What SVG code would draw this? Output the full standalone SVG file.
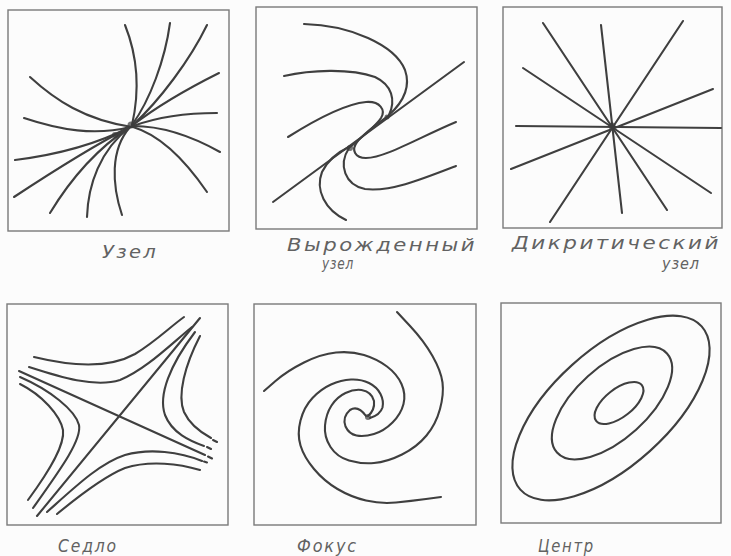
<svg xmlns="http://www.w3.org/2000/svg" width="731" height="556" viewBox="0 0 731 556">
<style>
.bg{fill:#fcfcfc}
.box{fill:none;stroke:#7a7a7a;stroke-width:1.4}
.c{fill:none;stroke:#3f3f3f;stroke-width:2.1;stroke-linecap:round;stroke-linejoin:round}
.lbl{font-family:"DejaVu Sans","Liberation Sans",sans-serif;font-style:italic;font-size:17px;letter-spacing:2px;fill:#626262}
.sm{font-size:15px;letter-spacing:1px}
.dot{fill:#3a3a3a;opacity:0.7}
</style>
<rect class="bg" x="0" y="0" width="731" height="556"/>

<g id="panel-uzel">
<rect class="box" x="8" y="10" width="221" height="221"/>
<path class="c" d="M125,25 C137,55 140,90 132,125"/>
<path class="c" d="M170,23 C165,60 150,100 132,125"/>
<path class="c" d="M207,25 C190,60 160,100 133,125"/>
<path class="c" d="M219,73 C185,90 155,108 133,125"/>
<path class="c" d="M217,113 C185,113 155,118 133,126"/>
<path class="c" d="M220,152 C195,138 165,126 133,126"/>
<path class="c" d="M207,192 C185,160 160,135 133,127"/>
<path class="c" d="M30,77 C55,100 85,120 132,127"/>
<path class="c" d="M24,118 C60,130 95,136 130,127"/>
<path class="c" d="M15,160 C55,155 95,145 130,127"/>
<path class="c" d="M14,197 C55,170 95,145 130,127"/>
<path class="c" d="M50,213 C70,180 95,150 130,127"/>
<path class="c" d="M87,217 C88,185 100,150 130,127"/>
<path class="c" d="M122,215 C112,185 110,150 130,127"/>
<circle class="dot" cx="131" cy="125" r="3.5"/>
<circle class="dot" cx="115" cy="135" r="3"/>
<text class="lbl" x="102" y="258" textLength="56" lengthAdjust="spacingAndGlyphs">Узел</text>
</g>

<g id="panel-vyrozhdenny">
<rect class="box" x="256" y="7" width="221" height="222"/>
<path class="c" d="M273,202 L464,62"/>
<path class="c" d="M304,24 C350,25 395,45 405,70 C412,90 400,105 389,115"/>
<path class="c" d="M284,76 C310,70 350,68 375,77 C392,85 396,100 389,115"/>
<path class="c" d="M288,137 C315,120 345,104 366,102 C380,101 386,110 381,118 C375,127 362,137 350,147"/>
<path class="c" d="M456,122 C420,137 385,158 366,158 C355,158 351,150 357,142 C364,133 377,124 388,116"/>
<path class="c" d="M456,166 C420,180 390,192 365,189 C345,185 338,165 349,148"/>
<path class="c" d="M346,220 C325,210 315,190 322,172 C328,160 338,152 349,147"/>
<circle class="dot" cx="350" cy="148" r="3"/>
<circle class="dot" cx="387" cy="117" r="2.5"/>
<text class="lbl" x="287" y="251" textLength="190" lengthAdjust="spacingAndGlyphs">Вырожденный</text>
<text class="lbl sm" x="322" y="269" textLength="32" lengthAdjust="spacingAndGlyphs">узел</text>
</g>

<g id="panel-dikritichesky">
<rect class="box" x="503" y="7" width="219" height="221"/>
<path class="c" d="M543,23 L667,210"/>
<path class="c" d="M601,25 L622,213"/>
<path class="c" d="M683,21 L550,222"/>
<path class="c" d="M523,68 L711,193"/>
<path class="c" d="M713,89 L511,169"/>
<path class="c" d="M516,126 L721,128"/>
<circle class="dot" cx="612" cy="126" r="3.5"/>
<text class="lbl" x="512" y="249" textLength="209" lengthAdjust="spacingAndGlyphs">Дикритический</text>
<text class="lbl sm" x="662" y="269" textLength="38" lengthAdjust="spacingAndGlyphs">узел</text>
</g>

<g id="panel-sedlo">
<rect class="box" x="7" y="304" width="221" height="221"/>
<path class="c" d="M19,371 L205,455"/>
<path class="c" d="M208,456.5 L212,458.5"/>
<path class="c" d="M200,318 L37,516"/>
<path class="c" d="M34,357 C75,367 110,368 135,354 C155,342 170,327 184,317"/>
<path class="c" d="M29,367 C60,377 95,388 120,380 C145,370 170,345 192,327"/>
<path class="c" d="M195,332 C170,365 158,395 165,415 C172,433 190,441 204,446"/>
<path class="c" d="M207,447 L211,449"/>
<path class="c" d="M200,336 C185,365 177,395 184,412 C190,425 200,432 211,438"/>
<path class="c" d="M213,440 L217,442"/>
<path class="c" d="M202,461 C180,452 150,448 125,455 C100,463 75,487 47,512"/>
<path class="c" d="M204,461.5 L207,462.5"/>
<path class="c" d="M200,470 C180,464 150,460 125,468 C105,476 80,495 57,514"/>
<path class="c" d="M20,377 C50,390 75,410 79,425 C82,440 60,470 33,508"/>
<path class="c" d="M20,384 C42,395 60,415 63,430 C65,445 50,470 28,500"/>
<text class="lbl" x="58" y="552" textLength="60" lengthAdjust="spacingAndGlyphs">Седло</text>
</g>

<g id="panel-fokus">
<rect class="box" x="254" y="304" width="222" height="221"/>
<path class="c" d="M397,312 L410.5,326.5 Q424,341 432.5,356 Q441,371 442.5,382.5 Q444,394 440,409 Q436,424 426.5,435.5 Q417,447 402,454.5 Q387,462 374,463 Q361,464 349,460.5 Q337,457 330.5,447 Q324,437 325,425.5 Q326,414 331.5,405.5 Q337,397 345.5,393 Q354,389 361.5,390 Q372,392 374,401 Q375,410 368,416"/>
<path class="c" d="M264,391 L275.5,381 Q287,371 304,362.5 Q321,354 336,352.5 Q351,351 364,355 Q377,359 387,366.5 Q397,374 401.5,384 Q406,394 403.5,404 Q401,414 392.5,422.5 Q384,431 374,434 Q364,437 356.5,435.5 Q349,434 345.5,426.5 Q342,417 350,410 Q358,405 366,416"/>
<path class="c" d="M441,497 L426,499 Q411,501 396,502.5 Q381,504 366,500.5 Q351,497 337.5,489 Q324,481 314,469 Q304,457 300.5,445.5 Q297,434 300.5,420.5 Q304,407 312.5,398 Q321,389 331,384.5 Q341,380 351,379.5 Q361,379 369,383 Q377,387 380.5,394 Q384,401 382.5,407.5 Q380,415 370,418"/>
<circle class="dot" cx="368" cy="417" r="3"/>
<text class="lbl" x="297" y="552" textLength="61" lengthAdjust="spacingAndGlyphs">Фокус</text>
</g>

<g id="panel-centr">
<rect class="box" x="501" y="303" width="220" height="220"/>
<ellipse class="c" cx="611" cy="408" rx="122" ry="58" transform="rotate(-42 611 408)"/>
<ellipse class="c" cx="612" cy="403" rx="74" ry="36" transform="rotate(-42 612 403)"/>
<ellipse class="c" cx="619" cy="403" rx="29" ry="14" transform="rotate(-38 619 403)"/>
<text class="lbl" x="538" y="552" textLength="57" lengthAdjust="spacingAndGlyphs">Центр</text>
</g>
</svg>
